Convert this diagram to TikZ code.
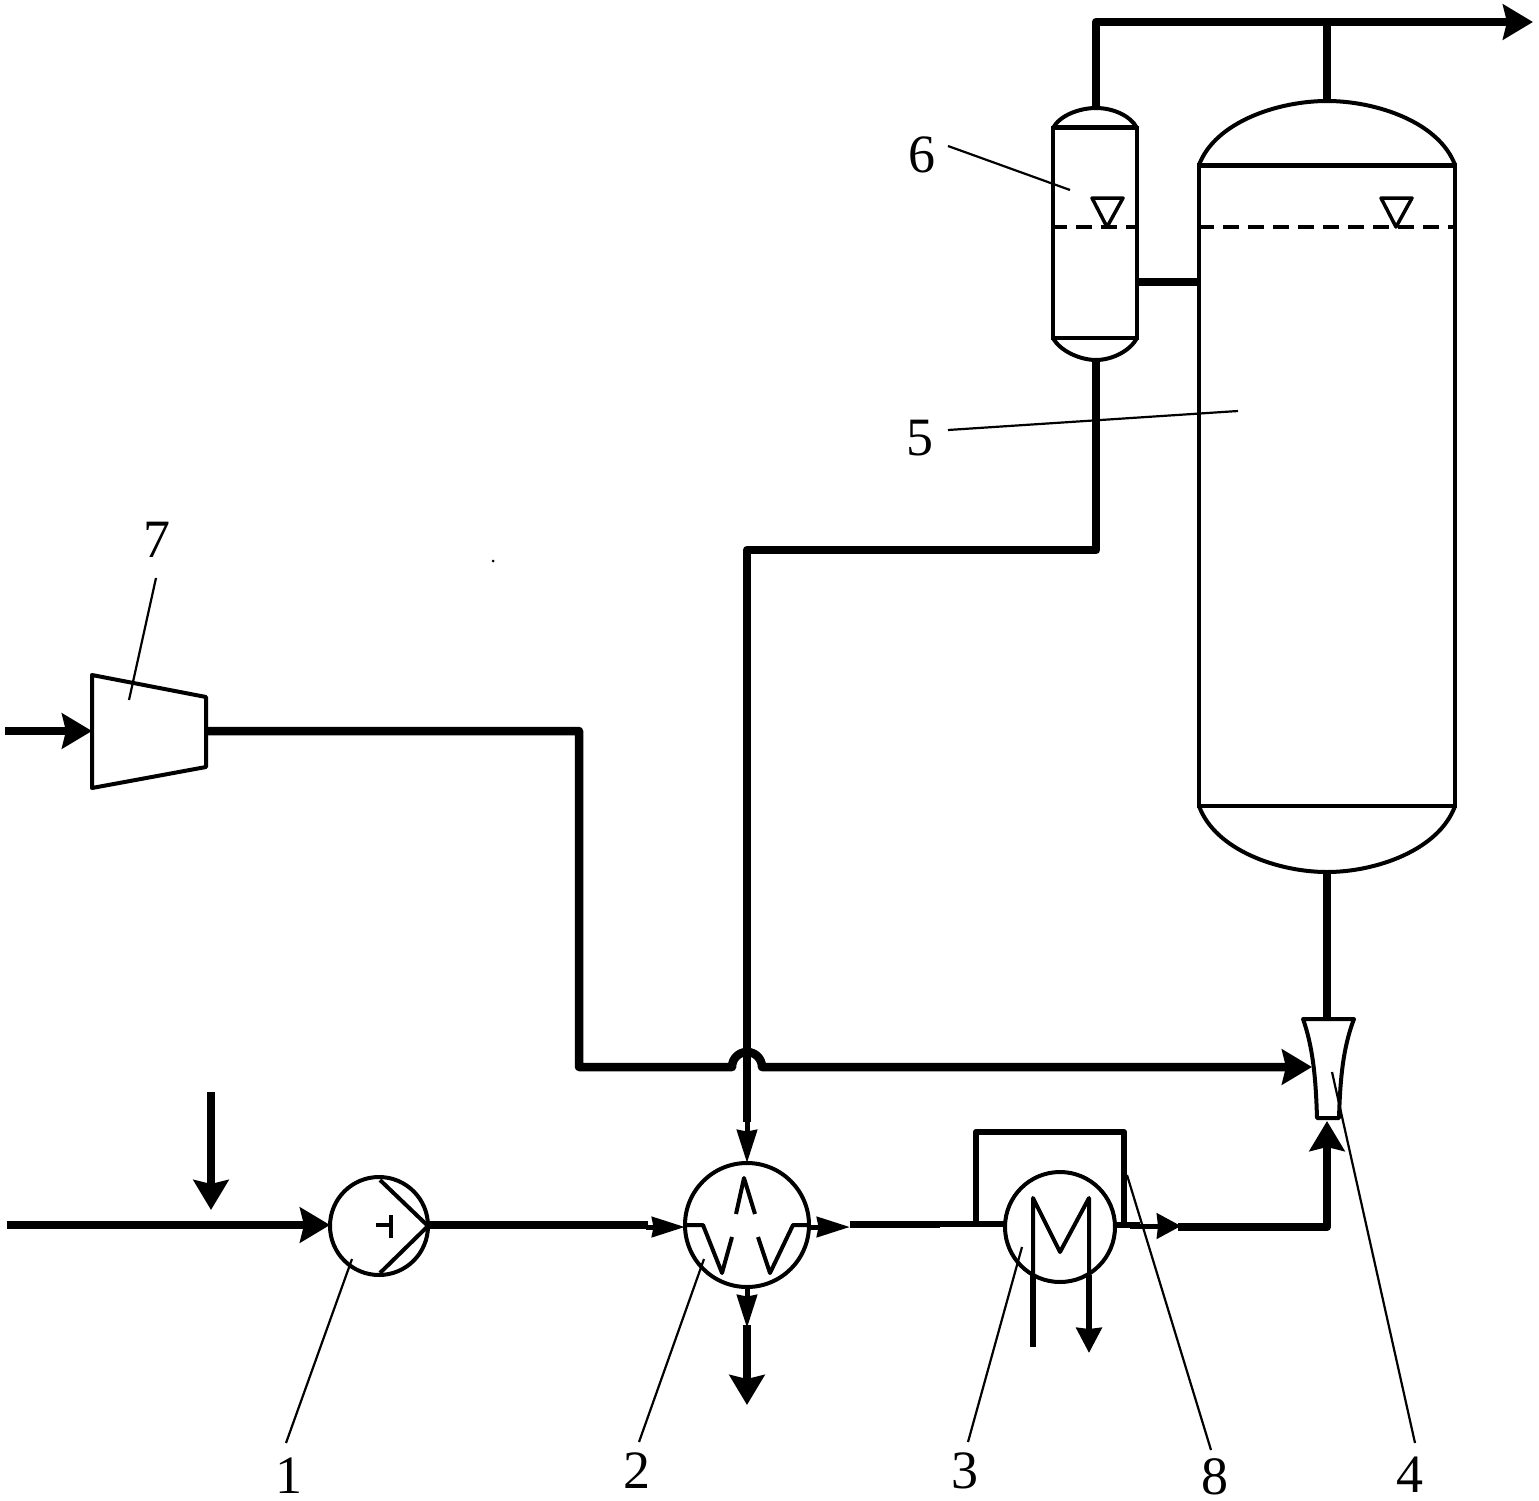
\documentclass[tikz,border=0pt]{standalone}
\usepackage{fontspec}
\setmainfont{Liberation Serif}
\usetikzlibrary{arrows.meta}
\tikzset{
  pipe/.style={line width=8.5pt,line join=round},
  mid/.style={line width=6pt,line join=round},
  shell/.style={line width=4pt,line join=round},
  leader/.style={line width=2.2pt},
  bighead/.style={-{Stealth[length=30pt,width=35pt,inset=4pt]}},
  smallhead/.style={-{Stealth[length=33pt,width=20pt,inset=1.5pt]}},
  coilhead/.style={-{Stealth[length=25pt,width=25pt,inset=1pt]}},
  round unit/.style={circle,draw,line width=4pt,inner sep=0pt,outer sep=0pt},
  body/.style={rectangle,draw,line width=4pt,inner sep=0pt,outer sep=0pt},
  num/.style={font=\fontsize{54}{54}\selectfont,inner sep=0pt},
  level/.style={line width=3.5pt,dash pattern=on 16pt off 9pt},
}
\begin{document}
\begin{tikzpicture}[x=1pt,y=-1pt]
\useasboundingbox (0,0) rectangle (1539,1501);
\fill[white] (0,0) rectangle (1539,1501);

% equipment
\node[round unit,minimum size=98pt] (pump) at (379,1226) {};
\node[round unit,minimum size=124pt] (hx) at (747,1225) {};
\node[round unit,minimum size=110pt] (cooler) at (1060,1227) {};
\node[body,minimum width=256pt,minimum height=641pt] (reactor) at (1327,485.5) {};
\node[body,minimum width=84pt,minimum height=210pt] (sep) at (1095,233) {};

% vessel heads
\draw[shell] (reactor.north west) .. controls (1215,122) and (1278,101) .. (1327,101) coordinate (rtop)
  .. controls (1376,101) and (1439,122) .. (reactor.north east);
\draw[shell] (reactor.south west) .. controls (1215,850) and (1278,872) .. (1327,872) coordinate (rbot)
  .. controls (1376,872) and (1439,850) .. (reactor.south east);
\draw[shell] (sep.north west) .. controls (1060,115) and (1080,108) .. (1096,108) coordinate (stop)
  .. controls (1112,108) and (1130,115) .. (sep.north east);
\draw[shell] (sep.south west) .. controls (1060,351) and (1080,360) .. (1096,360) coordinate (sbot)
  .. controls (1112,360) and (1130,351) .. (sep.south east);
\draw[shell,line width=5pt] (sep.north west) -- (sep.north east);
\draw[shell,line width=5pt] (reactor.north west) -- (reactor.north east);

% liquid levels
\draw[level] (1051,227) -- (1137,227);
\draw[level] (1198,227) -- (1455,227);
\draw[shell,line width=3.5pt] (1092,198) -- (1123,198) -- (1107,227) -- cycle;
\draw[shell,line width=3.5pt] (1381,198) -- (1412,198) -- (1396,227) -- cycle;

% compressor
\draw[shell] (92,675) coordinate (cnw) -- (206,697) -- (206,767) -- (92,788) -- cycle;
\coordinate (cin) at (92,731);
\coordinate (cout) at (206,731);

% ejector
\draw[shell] (1303,1019) -- (1354,1019) .. controls (1342,1050) and (1340,1085) .. (1339,1118)
  -- (1317,1118) .. controls (1316,1085) and (1314,1050) .. cycle;
\coordinate (ejtop) at (1327,1019);
\coordinate (ejside) at (1312,1067);
\coordinate (ejbot) at (1327,1121);

% pump and exchanger internals
\draw[shell] (380,1180) -- (pump.east) -- (380,1273);
\draw[shell] (376,1225) -- (391,1225) (391,1215) -- (391,1238);
\draw[shell] (hx.west) -- (703,1225) -- (722,1273) -- (732,1237);
\draw[shell] (736,1214) -- (744,1178) -- (755,1214);
\draw[shell] (758,1237) -- (770,1273) -- (793,1225) -- (hx.east);

% cooler coil and its bypass
\coordinate (cwin) at (1033,1347);
\coordinate (cwout) at (1089,1353);
\draw[shell] (1033,1290) -- (1033,1198) -- (1060,1252) -- (1089,1198) -- (1089,1290);
\draw[mid] (1033,1275) -- (cwin);
\draw[mid,coilhead] (1089,1275) -- (cwout);
\draw[mid] (976,1225) -- (976,1132) -- (1124,1132) -- (1124,1225);

% process lines
\coordinate (topend) at (1533,22);
\draw[pipe] (stop) -- (stop |- topend) -- (1505,22);
\draw[pipe,bighead] (1300,22) -- (topend);
\draw[pipe] (rtop) -- (rtop |- topend);
\draw[pipe] (sep.east |- 0,282) -- (reactor.west |- 0,282);
\draw[pipe] (sbot) -- (1096,550) -- (747,550) -- (747,1122);
\draw[line width=5pt,smallhead] (747,1118) -- (hx.north);
\draw[line width=5pt,smallhead] (hx.south) -- (747,1328);
\draw[pipe,bighead] (747,1325) -- (747,1405);

\coordinate (feed) at (7,1225);
\coordinate (add) at (211,1092);
\coordinate (addend) at (211,1210);
\draw[pipe,bighead] (feed) -- (feed -| pump.west);
\draw[pipe,bighead] (add) -- (addend);
\draw[pipe] (feed -| pump.east) -- (648,1225);
\draw[line width=5pt,smallhead] (646,1227) -- (hx.west |- 0,1227);
\draw[line width=5pt,smallhead] (hx.east |- 0,1227) -- (850,1227);
\draw[mid,line width=7pt] (850,1224) -- (940,1224);
\draw[mid] (940,1224) -- (cooler.west |- 0,1224);
\draw[mid] (cooler.east |- 0,1225) -- (1140,1225);
\draw[line width=5pt,-{Stealth[length=24pt,width=25pt,inset=1pt]}] (1130,1226) -- (1181,1226);
\draw[pipe,bighead] (1178,1227) -- (1327,1227) -- (ejbot);

\coordinate (inlet) at (5,731);
\draw[pipe,bighead] (inlet) -- (cin);
\draw[pipe,bighead] (cout) -- (579,731) -- (579,1067) -- (732,1067)
  arc[start angle=180,end angle=0,x radius=15,y radius=-15]
  -- (ejside);
\draw[pipe] (rbot) -- (ejtop);

% leaders and numbers
\node[num] (n6) at (922,155) {6};
\node[num] (n5) at (920,438) {5};
\node[num] (n7) at (157,540) {7};
\node[num] (n1) at (289,1476) {1};
\node[num] (n2) at (637,1471) {2};
\node[num] (n3) at (965,1470.5) {3};
\node[num] (n8) at (1215,1477) {8};
\node[num] (n4) at (1410,1475) {4};
\coordinate (l6) at (1070,190);
\coordinate (l5) at (1238,411);
\coordinate (l7) at (129,700);
\coordinate (l1) at (352,1259);
\coordinate (l2) at (704,1259);
\coordinate (l3) at (1022,1247);
\coordinate (l8) at (1127,1175);
\coordinate (l4) at (1332,1072);
\draw[leader] (948,146) -- (l6);
\draw[leader] (948,430) -- (l5);
\draw[leader] (156,578) -- (l7);
\draw[leader] (286,1443) -- (l1);
\draw[leader] (639,1442) -- (l2);
\draw[leader] (968,1442) -- (l3);
\draw[leader] (1211,1450) -- (l8);
\draw[leader] (1415,1443) -- (l4);
\fill (493,561) circle (1.5pt);
\end{tikzpicture}
\end{document}
